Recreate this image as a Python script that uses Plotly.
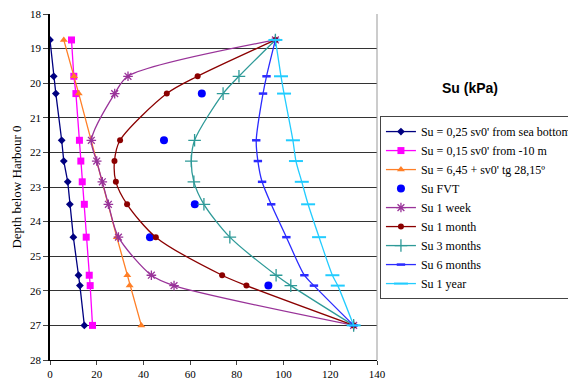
import plotly.graph_objects as go

# Depths (m below Harbour 0)
depth_full = [18.75, 19.8, 20.3, 21.65, 22.25, 22.85, 23.5, 24.45, 25.55, 25.85, 27.0]
depth_orange = [18.75, 19.8, 20.3, 24.45, 25.55, 25.85, 27.0]
depth_fvt = [20.3, 21.65, 23.5, 24.45, 25.85]

su_sea_bottom = [0.0, 1.6, 2.5, 5.0, 5.9, 7.6, 8.5, 10.0, 12.2, 12.8, 14.7]
su_minus10 = [9.2, 10.2, 11.1, 12.6, 13.2, 13.8, 14.7, 15.5, 16.8, 17.2, 18.2]
su_tg = [5.9, 10.3, 12.3, 28.6, 33.1, 34.1, 39.1]
su_fvt = [65.0, 48.8, 62.0, 42.8, 93.5]
su_1week = [96.5, 33.4, 27.7, 17.7, 20.0, 22.4, 25.0, 29.3, 43.4, 53.1, 130.0]
su_1month = [96.5, 63.2, 50.0, 30.0, 27.6, 28.2, 33.0, 45.3, 73.7, 84.1, 130.0]
su_3months = [96.5, 80.9, 74.1, 61.9, 60.5, 61.6, 65.9, 77.0, 96.8, 103.1, 130.0]
su_6months = [96.5, 92.7, 91.2, 88.3, 89.0, 90.8, 94.7, 101.2, 108.9, 113.0, 130.0]
su_1year = [96.5, 98.9, 100.2, 104.0, 105.3, 107.8, 110.5, 115.2, 120.9, 123.2, 130.0]

x_ticks = [0, 20, 40, 60, 80, 100, 120, 140]
y_ticks = list(range(18, 29))

SERIF = "Liberation Serif, Times New Roman, serif"

fig = go.Figure()

def add(name, x, y, color, symbol, msize, shape="linear", mode="lines+markers", lw=1.3, mline=0):
    fig.add_trace(go.Scatter(
        x=x, y=y, name=name, mode=mode,
        line=dict(color=color, width=lw, shape=shape, smoothing=0.8),
        marker=dict(color=color, symbol=symbol, size=msize,
                    line=dict(color=color, width=mline)),
    ))

add("Su = 0,25 sv0' from sea bottom", su_sea_bottom, depth_full, "#000080", "diamond", 6)
add("Su = 0,15 sv0' from -10 m", su_minus10, depth_full, "#FF00FF", "square", 7)
add("Su = 6,45 + sv0' tg 28,15º", su_tg, depth_orange, "#FF7F27", "triangle-up", 7)
add("Su FVT", su_fvt, depth_fvt, "#0000FF", "circle", 8, mode="markers")
add("Su 1 week", su_1week, depth_full, "#993399", "asterisk-open", 8, shape="spline", mline=1.3)
add("Su 1 month", su_1month, depth_full, "#8B0000", "circle", 6, shape="spline")
add("Su 3 months", su_3months, depth_full, "#2E9A98", "cross-thin-open", 9, shape="spline", mline=1.3)
add("Su 6 months", su_6months, depth_full, "#2B2BFF", "line-ew-open", 6, shape="spline", mline=2.5)
add("Su 1 year", su_1year, depth_full, "#22CCFF", "line-ew-open", 10, shape="spline", mline=2)

# page body has an 8px margin, so the figure is drawn 8px smaller and shifted
fig.update_layout(
    width=568, height=379,
    margin=dict(l=42, r=199, t=6, b=27, autoexpand=False),
    paper_bgcolor="white", plot_bgcolor="white",
    font=dict(family=SERIF, size=11, color="#000"),
    showlegend=True,
    legend=dict(
        x=1.009, y=0.705, xanchor="left", yanchor="top",
        bordercolor="#444", borderwidth=1, bgcolor="white",
        font=dict(family=SERIF, size=12, color="#000"),
        itemwidth=30, tracegroupgap=0,
    ),
    annotations=[dict(
        text="<b>Su (kPa)</b>", x=1.285, y=0.786, xref="paper", yref="paper",
        xanchor="center", yanchor="middle", showarrow=False,
        font=dict(family="Liberation Sans, Arial, sans-serif", size=14, color="#000"),
    )],
    shapes=[dict(type="line", xref="paper", yref="paper", x0=1, x1=1, y0=0, y1=1,
                 line=dict(color="#999", width=1))],
)

fig.update_xaxes(
    range=[0, 140], tickvals=x_ticks, ticks="outside", ticklen=4,
    tickfont=dict(family=SERIF, size=11, color="#000"),
    showline=True, linecolor="#000", linewidth=1, showgrid=False, zeroline=False,
    automargin=False, ticklabeloverflow="allow",
)
fig.update_yaxes(
    range=[28, 18], tickvals=y_ticks, ticks="outside", ticklen=5,
    tickfont=dict(family=SERIF, size=11, color="#000"),
    showline=True, linecolor="#000", linewidth=1.5,
    showgrid=True, gridcolor="#333", gridwidth=1, zeroline=False,
    automargin=False, ticklabeloverflow="allow",
    title=dict(text="Depth below Harbour 0", font=dict(family=SERIF, size=13), standoff=5),
)

fig.write_html("out.html")
